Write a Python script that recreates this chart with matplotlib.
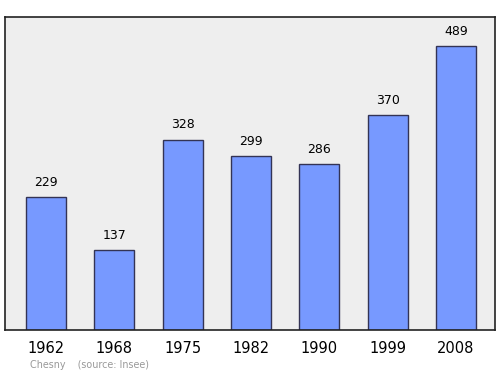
import matplotlib
matplotlib.use('Agg')
import matplotlib.pyplot as plt

years = ['1962', '1968', '1975', '1982', '1990', '1999', '2008']
population = [229, 137, 328, 299, 286, 370, 489]

fig = plt.figure(figsize=(5, 3.74), dpi=100)
ax = fig.add_axes([5 / 500, 1 - 330 / 374, 490 / 500, 313 / 374])
ax.set_facecolor('#eeeeee')

x = range(len(years))
ax.bar(x, population, width=0.585, color='#7799ff', edgecolor='#333355', linewidth=1)
for xi, v in zip(x, population):
    ax.annotate(str(v), (xi, v), xytext=(0, 6), textcoords='offset points',
                ha='center', va='bottom', fontsize=9)

ax.set_xlim(-0.6, 6.57)
ax.set_ylim(0, 539)
ax.set_yticks([])
ax.set_xticks(list(x))
ax.set_xticklabels(years, fontsize=10.5)
ax.tick_params(axis='x', length=0, pad=8)
for s in ax.spines.values():
    s.set_color('#222222')
    s.set_linewidth(1.2)

fig.text(30 / 500, 1 - 365 / 374, 'Chesny    (source: Insee)', fontsize=6.9,
         color='#999999', va='center', ha='left')

fig.savefig('out.png')
